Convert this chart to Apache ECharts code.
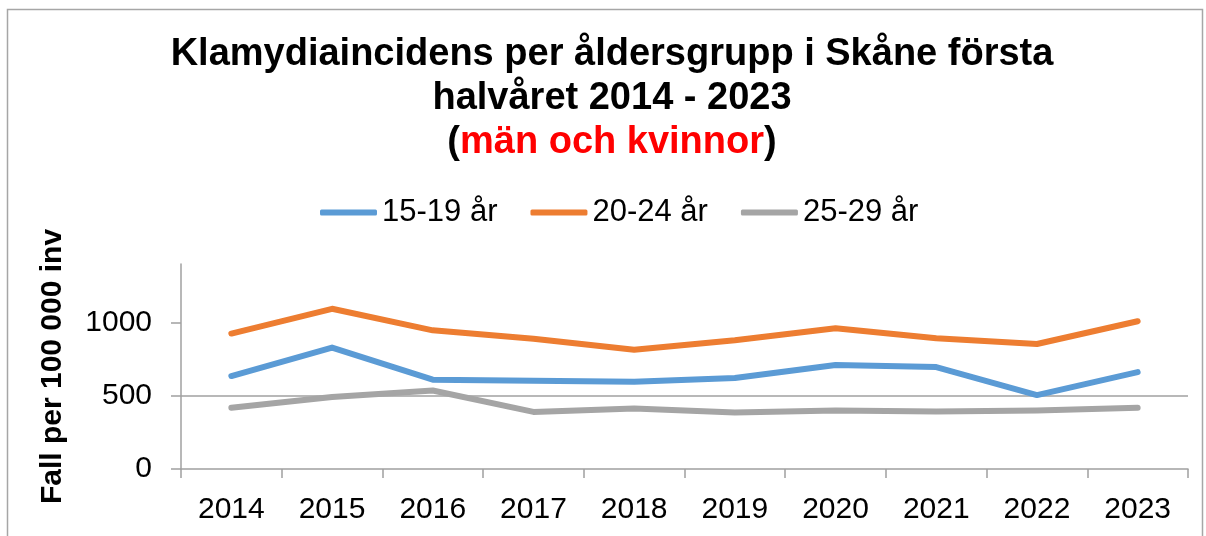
<!DOCTYPE html>
<html>
	<head>
		<meta charset="UTF-8">
		<title></title>
		<script src="https://cdn.jsdelivr.net/npm/echarts@6/dist/echarts.min.js" type="text/javascript" charset="utf-8"></script>
		<style>
			body { margin: 0; background: #fff; }
		</style>
	</head>
	<body>
		<div id="chart" style="width:1206px;height:536px;"></div>
	</body>
	<script type="text/javascript">
		// data
		var years = ['2014', '2015', '2016', '2017', '2018', '2019', '2020', '2021', '2022', '2023'];
		var age1519 = [635, 829, 610, 603, 596, 621, 710, 696, 505, 662];
		var age2024 = [925, 1094, 947, 890, 815, 879, 961, 893, 854, 1009];
		var age2529 = [418, 491, 536, 390, 413, 386, 400, 393, 400, 418];
		var yTicks = [0, 500, 1000];

		var font = 'Liberation Sans, Arial, sans-serif';
		var axisGray = '#a0a0a0';

		var chart = echarts.init(document.getElementById('chart'));

		function line(name, data, color) {
			return {
				name: name,
				type: 'line',
				data: data,
				showSymbol: false,
				symbol: 'none',
				lineStyle: { width: 6, color: color, cap: 'round', join: 'round' },
				itemStyle: { color: color },
				animation: false
			};
		}

		chart.setOption({
			backgroundColor: '#fff',
			graphic: [{
				type: 'rect',
				shape: { x: 7.5, y: 9.5, width: 1195, height: 600 },
				style: { fill: 'none', stroke: '#a6a6a6', lineWidth: 1.5 }
			}],
			title: {
				text: 'Klamydiaincidens per åldersgrupp i Skåne första\nhalvåret 2014 - 2023\n{p|(}{r|män och kvinnor}{p|)}',
				left: 607,
				textAlign: 'center',
				top: 28,
				textStyle: {
					fontFamily: font,
					fontSize: 38,
					fontWeight: 'bold',
					color: '#000',
					lineHeight: 44,
					rich: {
						p: { fontFamily: font, fontSize: 38, fontWeight: 'bold', color: '#000', lineHeight: 44 },
						r: { fontFamily: font, fontSize: 38, fontWeight: 'bold', color: '#ff0000', lineHeight: 44 }
					}
				}
			},
			legend: {
				top: 192,
				left: 315,
				itemWidth: 57,
				itemHeight: 6,
				itemGap: 33,
				icon: 'roundRect',
				textStyle: { fontFamily: font, fontSize: 31, color: '#000' },
				data: ['15-19 år', '20-24 år', '25-29 år']
			},
			grid: { left: 181, right: 18, top: 264, bottom: 67 },
			xAxis: {
				type: 'category',
				data: years,
				boundaryGap: true,
				axisLine: { lineStyle: { color: axisGray, width: 1.5 } },
				axisTick: { show: true, interval: 0, length: 9, lineStyle: { color: axisGray, width: 1.5 } },
				axisLabel: { fontFamily: font, fontSize: 30, color: '#000', margin: 26 }
			},
			yAxis: {
				type: 'value',
				min: 0,
				max: 1400,
				interval: 500,
				name: 'Fall per 100 000 inv',
				nameLocation: 'middle',
				nameGap: 113,
				nameRotate: 90,
				nameTextStyle: { fontFamily: font, fontSize: 30, fontWeight: 'bold', color: '#000' },
				axisLine: { show: true, lineStyle: { color: axisGray, width: 1.5 } },
				axisTick: { show: true, length: 10, customValues: yTicks, lineStyle: { color: axisGray, width: 1.5 } },
				axisLabel: {
					fontFamily: font, fontSize: 30, color: '#000', margin: 29, customValues: yTicks,
					formatter: function (v) { return String(v); }
				},
				splitLine: { show: true, showMaxLine: false, showMinLine: false, lineStyle: { color: axisGray, width: 1.5 } }
			},
			series: [
				line('15-19 år', age1519, '#5b9bd5'),
				line('20-24 år', age2024, '#ed7d31'),
				line('25-29 år', age2529, '#a5a5a5')
			]
		});
	</script>
</html>
